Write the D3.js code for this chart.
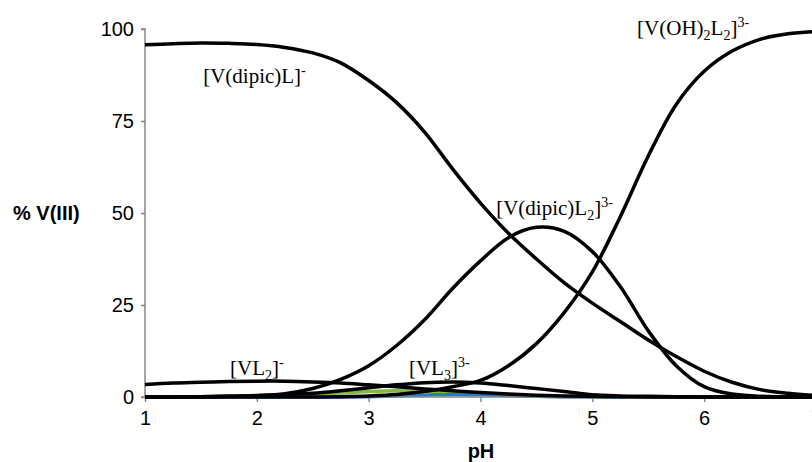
<!DOCTYPE html>
<html>
<head>
<meta charset="utf-8">
<script src="https://cdn.jsdelivr.net/npm/d3@7"></script>
<style>
  body { margin: 0; background: #fff; }
  svg { display: block; }
</style>
</head>
<body>
<svg width="812" height="462"></svg>
<script>
// pH steps used for every species curve
const pH = [1, 1.25, 1.5, 1.75, 2, 2.25, 2.5, 2.75, 3, 3.25, 3.5, 3.75, 4, 4.25, 4.5, 4.75, 5, 5.25, 5.5, 5.75, 6, 6.25, 6.5, 6.75, 7];

// % V(III) per species
const vDipicL   = [95.7, 96.0, 96.2, 96.1, 95.8, 95.0, 93.5, 90.8, 86.0, 80.0, 72.0, 62.0, 52.7, 44.5, 37.5, 31.0, 25.5, 20.5, 15.5, 11.0, 7.0, 4.0, 2.0, 1.0, 0.4];
const vDipicL2  = [0, 0, 0.1, 0.2, 0.4, 0.9, 2.3, 4.8, 8.5, 14.0, 21.0, 29.5, 37.0, 43.3, 46.1, 45.0, 39.5, 30.0, 18.0, 8.5, 2.8, 0.8, 0.2, 0, 0];
const vOH2L2    = [0, 0, 0, 0, 0, 0, 0, 0.1, 0.3, 0.7, 1.5, 2.8, 4.5, 8.5, 14.5, 23.0, 34.0, 49.0, 65.5, 79.5, 88.5, 94.0, 97.2, 98.7, 99.3];
const vVL2      = [3.4, 3.8, 4.0, 4.2, 4.3, 4.3, 4.1, 3.8, 3.3, 2.8, 2.2, 1.7, 1.2, 0.8, 0.5, 0.3, 0.2, 0.1, 0, 0, 0, 0, 0, 0, 0];
const vVL3      = [0, 0, 0.1, 0.2, 0.3, 0.6, 1.0, 1.7, 2.5, 3.3, 3.9, 4.1, 3.8, 3.1, 2.3, 1.5, 0.6, 0.3, 0.2, 0.1, 0, 0, 0, 0, 0];
const vGreen    = [0, 0.05, 0.1, 0.2, 0.35, 0.5, 0.8, 1.1, 1.5, 1.7, 1.5, 1.1, 0.7, 0.4, 0.2, 0.1, 0.05, 0, 0, 0, 0, 0, 0, 0, 0];
const vBlue     = [0, 0, 0, 0, 0, 0, 0, 0, 0.1, 0.3, 0.5, 0.7, 0.6, 0.4, 0.2, 0.1, 0, 0, 0, 0, 0, 0, 0, 0, 0];

const xTicks = [1, 2, 3, 4, 5, 6, 7];
const yTicks = [0, 25, 50, 75, 100];

// curve labels: parts are [text, "n" | "sub" | "sup"], anchored at (pH, %)
const labels = [
    {pH: 1.52, v: 85.3, parts: [["[V(dipic)L]", "n"], ["-", "sup"]]},
    {pH: 5.40, v: 98.4, parts: [["[V(OH)", "n"], ["2", "sub"], ["L", "n"], ["2", "sub"], ["]", "n"], ["3-", "sup"]]},
    {pH: 4.14, v: 49.5, parts: [["[V(dipic)L", "n"], ["2", "sub"], ["]", "n"], ["3-", "sup"]]},
    {pH: 1.76, v: 6.0,  parts: [["[VL", "n"], ["2", "sub"], ["]", "n"], ["-", "sup"]]},
    {pH: 3.36, v: 6.0,  parts: [["[VL", "n"], ["3", "sub"], ["]", "n"], ["3-", "sup"]]}
];

const svg = d3.select("svg");
const axisColor = "#868686";

const x = d3.scaleLinear().domain([1, 7]).range([145, 816]);
const y = d3.scaleLinear().domain([0, 100]).range([397, 29]);

const line = d3.line()
    .x((d, i) => x(pH[i]))
    .y(d => y(d))
    .curve(d3.curveCatmullRom.alpha(0.5));

// coloured minor species first, black curves on top
svg.append("g")
    .selectAll("path")
    .data([{v: vGreen, c: "#86b83e"}, {v: vBlue, c: "#2a7cc0"}])
    .enter().append("path")
    .attr("d", d => line(d.v))
    .attr("fill", "none")
    .attr("stroke", d => d.c)
    .attr("stroke-width", 3.5);

// axes
const yAxis = svg.append("g")
    .attr("transform", "translate(145,0)")
    .call(d3.axisLeft(y).tickValues(yTicks).tickSize(4).tickPadding(7));
const xAxis = svg.append("g")
    .attr("transform", "translate(0,397)")
    .call(d3.axisBottom(x).tickValues(xTicks).tickFormat(d3.format("d")).tickSize(5).tickPadding(9));

[xAxis, yAxis].forEach(g => {
    g.selectAll(".domain").attr("stroke", axisColor).attr("stroke-width", 1.5);
    g.selectAll(".tick line").attr("stroke", axisColor).attr("stroke-width", 1.5);
    g.selectAll("text")
        .attr("fill", "#000")
        .style("font-family", "Arial, 'Liberation Sans', sans-serif")
        .style("font-size", "20px");
});
yAxis.select(".domain").attr("d", "M-4," + y(100) + "H0V" + y(0) + "H-4");
xAxis.select(".domain").attr("d", "M" + x(1) + ",0H812");

svg.append("g")
    .selectAll("path")
    .data([vDipicL, vDipicL2, vOH2L2, vVL2, vVL3])
    .enter().append("path")
    .attr("d", d => line(d))
    .attr("fill", "none")
    .attr("stroke", "#000")
    .attr("stroke-width", 3.5);

// axis titles
svg.append("text")
    .attr("x", 481)
    .attr("y", 458)
    .attr("text-anchor", "middle")
    .style("font-family", "Arial, 'Liberation Sans', sans-serif")
    .style("font-weight", "bold")
    .style("font-size", "20px")
    .text("pH");

svg.append("text")
    .attr("x", 13)
    .attr("y", 220)
    .style("font-family", "Arial, 'Liberation Sans', sans-serif")
    .style("font-weight", "bold")
    .style("font-size", "20px")
    .text("% V(III)");

// species labels
const lab = svg.append("g")
    .selectAll("text")
    .data(labels)
    .enter().append("text")
    .attr("x", d => x(d.pH))
    .attr("y", d => y(d.v))
    .style("font-family", "'Times New Roman', 'Liberation Serif', serif")
    .style("font-size", "21px");

lab.each(function(d) {
    const t = d3.select(this);
    let shift = 0;
    d.parts.forEach(p => {
        const target = p[1] === "sub" ? 5 : p[1] === "sup" ? -8 : 0;
        t.append("tspan")
            .attr("dy", target - shift)
            .style("font-size", p[1] === "n" ? "21px" : "14px")
            .text(p[0]);
        shift = target;
    });
});
</script>
</body>
</html>
